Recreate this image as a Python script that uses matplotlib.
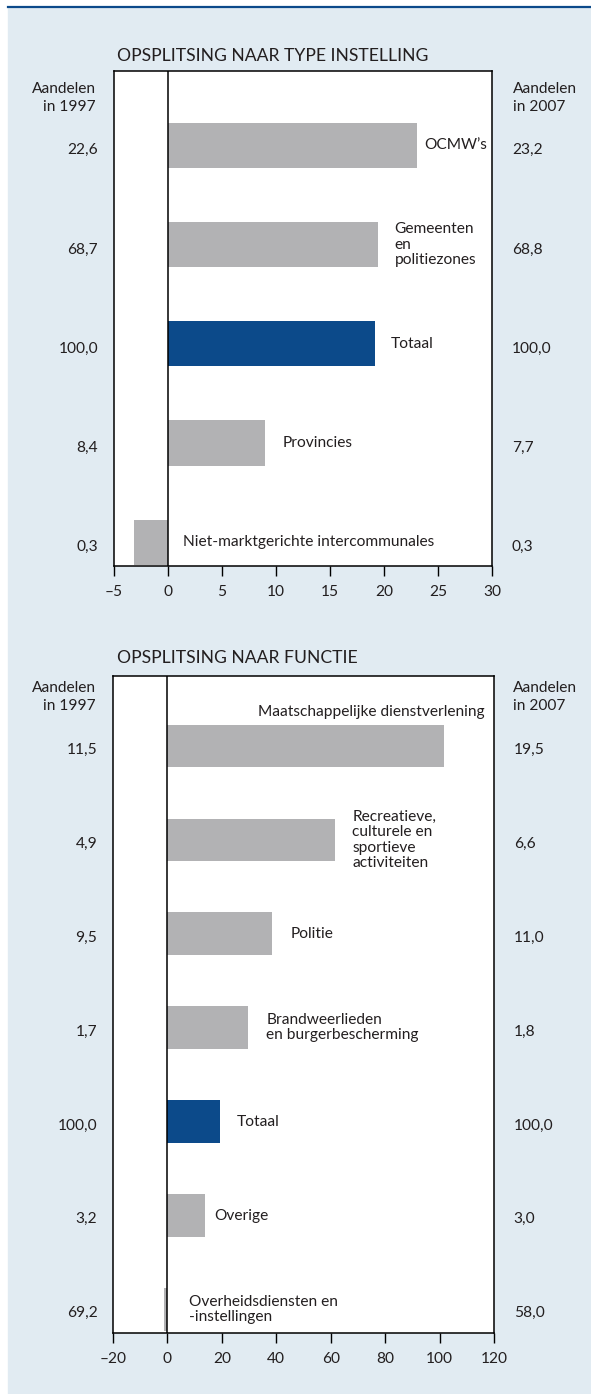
import matplotlib.pyplot as plt
from matplotlib.patches import Rectangle
from matplotlib.lines import Line2D
from matplotlib.ticker import FuncFormatter

plt.rcParams['font.family'] = ['Lato', 'DejaVu Sans']

# panel 1: opsplitsing naar type instelling
cats1 = ["OCMW\u2019s", "Gemeenten\nen\npolitiezones", "Totaal", "Provincies",
         "Niet-marktgerichte intercommunales"]
growth1 = [23.0, 19.4, 19.2, 9.0, -3.1]
share97_1 = ["22,6", "68,7", "100,0", "8,4", "0,3"]
share07_1 = ["23,2", "68,8", "100,0", "7,7", "0,3"]
ticks1 = [-5, 0, 5, 10, 15, 20, 25, 30]

# panel 2: opsplitsing naar functie
cats2 = ["Maatschappelijke dienstverlening",
         "Recreatieve,\nculturele en\nsportieve\nactiviteiten",
         "Politie", "Brandweerlieden\nen burgerbescherming", "Totaal",
         "Overige", "Overheidsdiensten en\n-instellingen"]
growth2 = [101.6, 61.7, 38.5, 29.7, 19.4, 13.9, -1.1]
share97_2 = ["11,5", "4,9", "9,5", "1,7", "100,0", "3,2", "69,2"]
share07_2 = ["19,5", "6,6", "11,0", "1,8", "100,0", "3,0", "58,0"]
ticks2 = [-20, 0, 20, 40, 60, 80, 100, 120]

GREY = "#b2b2b4"
BLUE = "#0c4a8a"
BG = "#e1ebf2"
TXT = "#231f20"
FS = 11.2

W, H = 591, 1394
fig = plt.figure(figsize=(W / 100, H / 100), dpi=100)

# background panel and top rule
fig.patches.append(Rectangle((8 / W, 0), 1, 1 - 8 / H, transform=fig.transFigure,
                             color=BG, zorder=-10))
fig.lines.append(Line2D([8 / W, 1], [1 - 7 / H, 1 - 7 / H], transform=fig.transFigure,
                        color=BLUE, lw=1.6))


def px_axes(l, t, r, b):
    return fig.add_axes([l / W, 1 - b / H, (r - l) / W, (b - t) / H])


def dash_fmt(v, pos):
    return ("%d" % v).replace("-", "\u2013")


def panel(ax, cats, vals, s97, s07, ticks, xlim, ylim, gaps, val_dy):
    colors = [BLUE if c == "Totaal" else GREY for c in cats]
    y = list(range(len(cats)))
    ax.barh(y, vals, height=0.455, color=colors, zorder=2)
    ax.axvline(0, color="black", lw=1.1, zorder=3)
    ax.set_xlim(*xlim)
    ax.set_ylim(*ylim)
    ax.set_yticks([])
    ax.set_xticks(ticks)
    ax.xaxis.set_major_formatter(FuncFormatter(dash_fmt))
    ax.tick_params(axis="x", direction="out", length=7.5, width=1, pad=6,
                   labelsize=FS, colors=TXT)
    ax.tick_params(axis="x", color="black")
    for sp in ax.spines.values():
        sp.set_linewidth(1.1)
        sp.set_color("black")
    ytr = ax.get_yaxis_transform()
    for i in y:
        ax.text(-0.041, i + val_dy, s97[i], transform=ytr, ha="right", va="center",
                fontsize=FS, color=TXT, clip_on=False)
        ax.text(1.052, i + val_dy, s07[i], transform=ytr, ha="left", va="center",
                fontsize=FS, color=TXT, clip_on=False)
        if gaps[i] is None:
            continue
        ax.annotate(cats[i], xy=(max(vals[i], 0), i), xytext=(gaps[i] * 0.72, 0),
                    textcoords="offset points", ha="left", va="center",
                    fontsize=FS, color=TXT, linespacing=1.12, zorder=4)


# panel 1
ax1 = px_axes(113.7, 71, 492.3, 566)
panel(ax1, cats1, growth1, share97_1, share07_1, ticks1, (-5, 30), (4.24, -0.75),
      [8, 17, 15, 17, 15], 0.05)

# panel 2
ax2 = px_axes(113, 676, 494, 1333)
panel(ax2, cats2, growth2, share97_2, share07_2, ticks2, (-20, 120), (6.25, -0.745),
      [None, 17, 18, 18, 17, 9, 22], 0.04)
ax2.text(0.976, -0.36, cats2[0], transform=ax2.get_yaxis_transform(), ha="right",
         va="center", fontsize=FS, color=TXT)

# titles and column heads
for title, ty, hy in [("OPSPLITSING NAAR TYPE INSTELLING", 56, 98),
                      ("OPSPLITSING NAAR FUNCTIE", 658, 697)]:
    fig.text(117 / W, 1 - ty / H, title, ha="left", va="center", fontsize=12.6,
             color=TXT)
    fig.text(96 / W, 1 - hy / H, "Aandelen\nin 1997", ha="right", va="center",
             fontsize=FS, color=TXT, linespacing=1.3, multialignment="right")
    fig.text(513 / W, 1 - hy / H, "Aandelen\nin 2007", ha="left", va="center",
             fontsize=FS, color=TXT, linespacing=1.3)

fig.savefig("out.png", dpi=100, facecolor="white")
